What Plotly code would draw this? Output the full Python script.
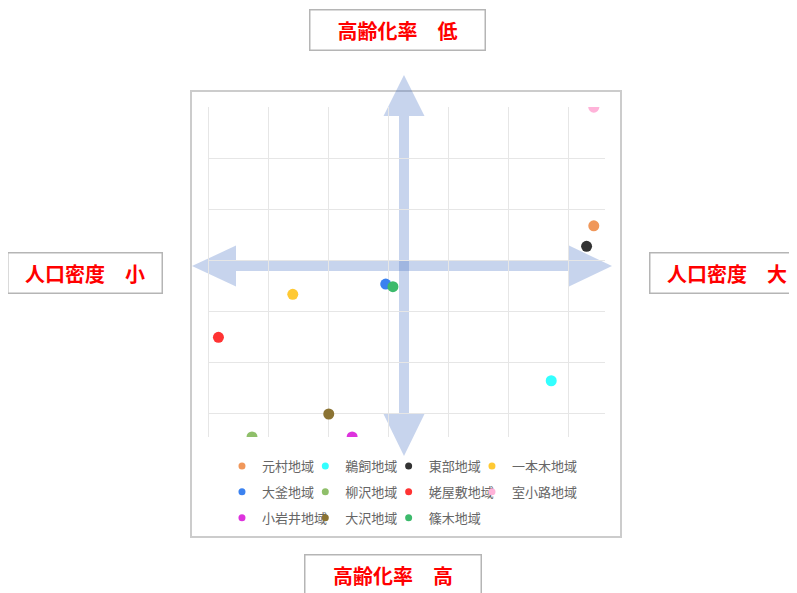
import plotly.graph_objects as go

# ---- data ----
regions = ["元村地域", "鵜飼地域", "東部地域", "一本木地域", "大釜地域", "柳沢地域",
           "姥屋敷地域", "室小路地域", "小岩井地域", "大沢地域", "篠木地域"]
# x: 人口密度 (small -> large), y: 高齢化率 (high at bottom -> low at top)
density = [6.43, 5.72, 6.31, 1.41, 2.96, 0.73, 0.17, 6.43, 2.40, 2.01, 3.08]
aging_score = [3.68, 0.65, 3.28, 2.34, 2.54, -0.45, 1.50, 6.00, -0.45, 0.00, 2.49]
colors = ["#F0975A", "#33FFFF", "#333333", "#FFC933", "#3B82F0", "#8FBF6A",
          "#FF3333", "#FFB3D9", "#DD33DD", "#8B7333", "#3CBA6C"]

label_top = "高齢化率\u3000低"
label_bottom = "高齢化率\u3000高"
label_left = "人口密度\u3000小"
label_right = "人口密度\u3000大"

FONT = "Noto Sans CJK JP"
N_COLS = 4  # legend laid out as a 4-column grid (one legend per column)
legend_ids = ["legend", "legend2", "legend3", "legend4"]

LEGEND_DOT = 7     # legend symbol diameter
PLOT_DOT = 11      # plotted marker diameter

fig = go.Figure()
for i, (name, xv, yv, c) in enumerate(zip(regions, density, aging_score, colors)):
    fig.add_trace(go.Scatter(
        x=[xv], y=[yv], mode="markers", name=name,
        legend=legend_ids[i % N_COLS], legendgroup=name,
        marker=dict(size=[LEGEND_DOT], sizemode="diameter",
                    sizeref=LEGEND_DOT / PLOT_DOT, color=c, opacity=1,
                    line=dict(width=0)),
        cliponaxis=True, hoverinfo="name",
    ))

grid = "#e6e6e6"
axis_common = dict(showticklabels=False, ticks="", showline=False, gridcolor=grid,
                   gridwidth=1, zeroline=True, zerolinecolor=grid, zerolinewidth=1,
                   tick0=0, dtick=1, fixedrange=True)

arrow_fill = "rgba(68,114,196,0.30)"

# horizontal double arrow (paper coordinates)
xl_t, xl_b, xr_b, xr_t = -0.0403, 0.0705, 0.9093, 1.0176
yc, hs, hh = 0.518, 0.01515, 0.0621
hpath = (f"M {xl_t},{yc} L {xl_b},{yc+hh} L {xl_b},{yc+hs} L {xr_b},{yc+hs} "
         f"L {xr_b},{yc+hh} L {xr_t},{yc} L {xr_b},{yc-hh} L {xr_b},{yc-hs} "
         f"L {xl_b},{yc-hs} L {xl_b},{yc-hh} Z")
# vertical double arrow
xc, vs, vh = 0.4937, 0.0126, 0.0516
yt_t, yt_b, yb_b, yb_t = 1.097, 0.9727, 0.0697, -0.0576
vpath = (f"M {xc},{yt_t} L {xc+vh},{yt_b} L {xc+vs},{yt_b} L {xc+vs},{yb_b} "
         f"L {xc+vh},{yb_b} L {xc},{yb_t} L {xc-vh},{yb_b} L {xc-vs},{yb_b} "
         f"L {xc-vs},{yt_b} L {xc-vh},{yt_b} Z")

shapes = [
    dict(type="rect", xref="paper", yref="paper", x0=-0.0428, x1=1.0403,
         y0=-0.303, y1=1.0485, line=dict(color="#cccccc", width=2),
         fillcolor="rgba(0,0,0,0)", layer="below"),
    dict(type="path", xref="paper", yref="paper", path=hpath,
         fillcolor=arrow_fill, line=dict(width=0), layer="below"),
    dict(type="path", xref="paper", yref="paper", path=vpath,
         fillcolor=arrow_fill, line=dict(width=0), layer="below"),
]

def box(text, x, y, w, h):
    return dict(text=f"<b>{text}</b>", xref="paper", yref="paper", x=x, y=y,
                xanchor="center", yanchor="middle", showarrow=False,
                width=w, height=h, bgcolor="white", bordercolor="#b5b5b5",
                borderwidth=1.5, borderpad=0,
                font=dict(family=FONT, size=20, color="#FF0000"))

annotations = [
    box(label_top, 0.4773, 1.234, 174, 39),
    box(label_left, -0.3098, 0.496, 153, 39),
    box(label_right, 1.307, 0.497, 153, 39),
    box(label_bottom, 0.466, -0.4167, 175, 39),
]

legend_style = dict(orientation="v", xanchor="left", y=-0.0424, yanchor="top",
                    font=dict(family=FONT, size=13, color="#666666"),
                    itemwidth=30, tracegroupgap=6, bgcolor="rgba(0,0,0,0)",
                    borderwidth=0)
legend_x = [0.0352, 0.2451, 0.4550, 0.6649]

fig.update_layout(
    width=797, height=593, autosize=False,
    margin=dict(l=200, r=200, t=99, b=164, pad=0),
    paper_bgcolor="white", plot_bgcolor="white",
    xaxis=dict(range=[-0.004, 6.617], **axis_common),
    yaxis=dict(range=[-0.45, 6.004], **axis_common),
    showlegend=True,
    legend=dict(x=legend_x[0], **legend_style),
    legend2=dict(x=legend_x[1], **legend_style),
    legend3=dict(x=legend_x[2], **legend_style),
    legend4=dict(x=legend_x[3], **legend_style),
    shapes=shapes, annotations=annotations,
    font=dict(family=FONT),
)

fig.write_html("out.html")
